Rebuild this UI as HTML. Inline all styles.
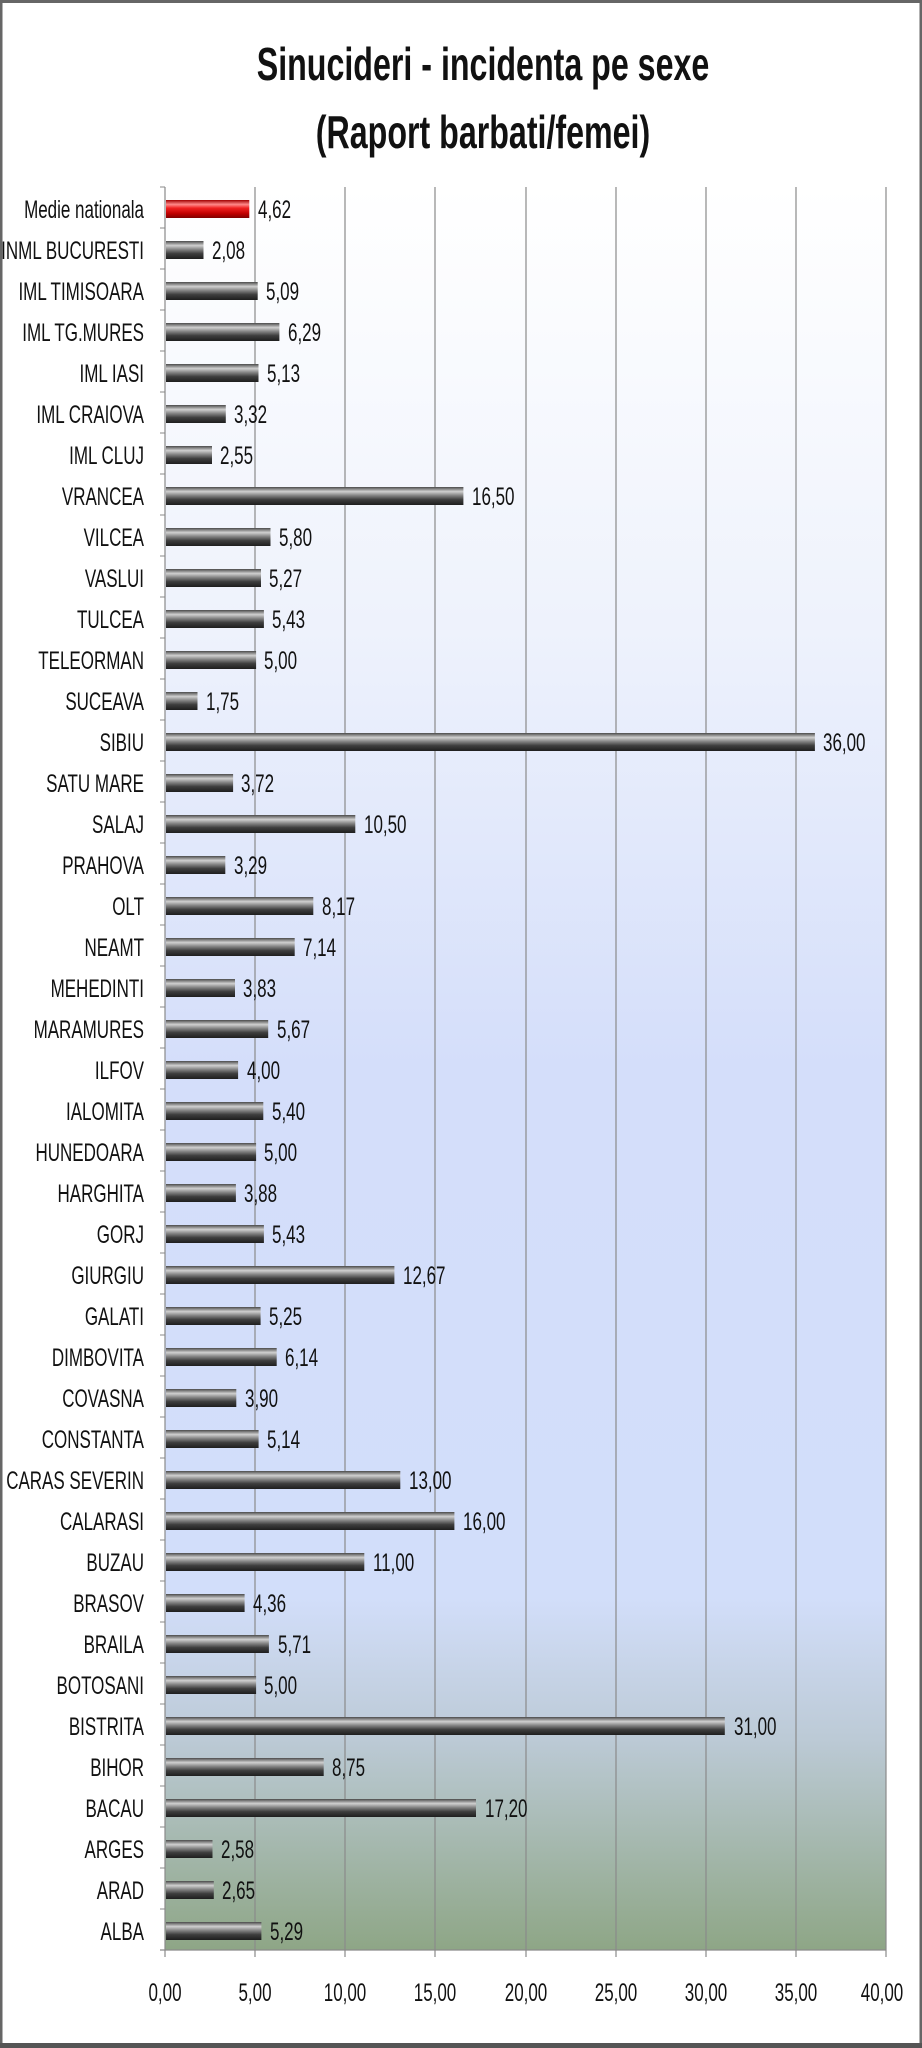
<!DOCTYPE html>
<html><head><meta charset="utf-8"><style>
html,body{margin:0;padding:0;background:#fff}
svg{display:block}
text{font-family:"Liberation Sans",sans-serif;fill:#111}
.l{font-size:25px}
</style></head><body>
<svg width="922" height="2048" viewBox="0 0 922 2048" xmlns="http://www.w3.org/2000/svg">
<defs>
<linearGradient id="bg" x1="0" y1="0" x2="0" y2="1">
<stop offset="0" stop-color="#ffffff"/>
<stop offset="0.25" stop-color="#eef2fc"/>
<stop offset="0.5" stop-color="#d4defa"/>
<stop offset="0.8" stop-color="#d2defa"/>
<stop offset="0.88" stop-color="#bccad6"/>
<stop offset="1" stop-color="#8ea686"/>
</linearGradient>
<linearGradient id="bar" x1="0" y1="0" x2="0" y2="1">
<stop offset="0" stop-color="#4a4a4a"/>
<stop offset="0.25" stop-color="#d0d0d0"/>
<stop offset="0.45" stop-color="#8a8a8a"/>
<stop offset="0.7" stop-color="#3e3e3e"/>
<stop offset="1" stop-color="#1e1e1e"/>
</linearGradient>
<linearGradient id="red" x1="0" y1="0" x2="0" y2="1">
<stop offset="0" stop-color="#a00000"/>
<stop offset="0.25" stop-color="#ff8a8a"/>
<stop offset="0.45" stop-color="#f02020"/>
<stop offset="0.75" stop-color="#c00000"/>
<stop offset="1" stop-color="#800000"/>
</linearGradient>
</defs>
<rect x="1" y="1" width="920" height="2045" fill="#fff" stroke="#666" stroke-width="3"/>
<rect x="0" y="0" width="922" height="3" fill="#666"/>
<rect x="0" y="2043" width="922" height="5" fill="#555"/>
<text transform="translate(483,80) scale(0.7,1)" text-anchor="middle" style="font-size:46px;font-weight:bold">Sinucideri - incidenta pe sexe</text>
<text transform="translate(483,148) scale(0.7,1)" text-anchor="middle" style="font-size:46px;font-weight:bold">(Raport barbati/femei)</text>
<rect x="165" y="187" width="721" height="1763" fill="url(#bg)"/>
<g stroke="#8a8a8a" stroke-width="1.2">
<line x1="255" y1="187" x2="255" y2="1950"/><line x1="345" y1="187" x2="345" y2="1950"/>
<line x1="435" y1="187" x2="435" y2="1950"/><line x1="526" y1="187" x2="526" y2="1950"/>
<line x1="616" y1="187" x2="616" y2="1950"/><line x1="706" y1="187" x2="706" y2="1950"/>
<line x1="796" y1="187" x2="796" y2="1950"/><line x1="886" y1="187" x2="886" y2="1950"/>
<line x1="165" y1="187" x2="165" y2="1950"/><line x1="160" y1="1950" x2="886" y2="1950"/>
</g>
<g stroke="#8a8a8a" stroke-width="1.2">
<line x1="165" y1="1950" x2="165" y2="1957"/><line x1="255" y1="1950" x2="255" y2="1957"/><line x1="345" y1="1950" x2="345" y2="1957"/><line x1="435" y1="1950" x2="435" y2="1957"/><line x1="526" y1="1950" x2="526" y2="1957"/><line x1="616" y1="1950" x2="616" y2="1957"/><line x1="706" y1="1950" x2="706" y2="1957"/><line x1="796" y1="1950" x2="796" y2="1957"/><line x1="886" y1="1950" x2="886" y2="1957"/>
</g>
<g class="l">
<text transform="translate(165,2001) scale(0.68,1)" text-anchor="middle">0,00</text>
<text transform="translate(255,2001) scale(0.68,1)" text-anchor="middle">5,00</text>
<text transform="translate(345,2001) scale(0.68,1)" text-anchor="middle">10,00</text>
<text transform="translate(435,2001) scale(0.68,1)" text-anchor="middle">15,00</text>
<text transform="translate(526,2001) scale(0.68,1)" text-anchor="middle">20,00</text>
<text transform="translate(616,2001) scale(0.68,1)" text-anchor="middle">25,00</text>
<text transform="translate(706,2001) scale(0.68,1)" text-anchor="middle">30,00</text>
<text transform="translate(796,2001) scale(0.68,1)" text-anchor="middle">35,00</text>
<text transform="translate(882,2001) scale(0.68,1)" text-anchor="middle">40,00</text>
</g>
<g class="l">
<g transform="translate(0,187)"><line x1="160" y1="0" x2="165" y2="0" stroke="#888"/><text transform="translate(144,31) scale(0.68,1)" text-anchor="end">Medie nationala</text><rect x="166" y="13" width="83.3" height="18" fill="url(#red)"/><text transform="translate(258,31) scale(0.68,1)">4,62</text></g>
<g transform="translate(0,228)"><line x1="160" y1="0" x2="165" y2="0" stroke="#888"/><text transform="translate(144,31) scale(0.68,1)" text-anchor="end">INML BUCURESTI</text><rect x="166" y="13" width="37.5" height="18" fill="url(#bar)"/><text transform="translate(212,31) scale(0.68,1)">2,08</text></g>
<g transform="translate(0,269)"><line x1="160" y1="0" x2="165" y2="0" stroke="#888"/><text transform="translate(144,31) scale(0.68,1)" text-anchor="end">IML TIMISOARA</text><rect x="166" y="13" width="91.7" height="18" fill="url(#bar)"/><text transform="translate(266,31) scale(0.68,1)">5,09</text></g>
<g transform="translate(0,310)"><line x1="160" y1="0" x2="165" y2="0" stroke="#888"/><text transform="translate(144,31) scale(0.68,1)" text-anchor="end">IML TG.MURES</text><rect x="166" y="13" width="113.4" height="18" fill="url(#bar)"/><text transform="translate(288,31) scale(0.68,1)">6,29</text></g>
<g transform="translate(0,351)"><line x1="160" y1="0" x2="165" y2="0" stroke="#888"/><text transform="translate(144,31) scale(0.68,1)" text-anchor="end">IML IASI</text><rect x="166" y="13" width="92.5" height="18" fill="url(#bar)"/><text transform="translate(267,31) scale(0.68,1)">5,13</text></g>
<g transform="translate(0,392)"><line x1="160" y1="0" x2="165" y2="0" stroke="#888"/><text transform="translate(144,31) scale(0.68,1)" text-anchor="end">IML CRAIOVA</text><rect x="166" y="13" width="59.8" height="18" fill="url(#bar)"/><text transform="translate(234,31) scale(0.68,1)">3,32</text></g>
<g transform="translate(0,433)"><line x1="160" y1="0" x2="165" y2="0" stroke="#888"/><text transform="translate(144,31) scale(0.68,1)" text-anchor="end">IML CLUJ</text><rect x="166" y="13" width="46.0" height="18" fill="url(#bar)"/><text transform="translate(220,31) scale(0.68,1)">2,55</text></g>
<g transform="translate(0,474)"><line x1="160" y1="0" x2="165" y2="0" stroke="#888"/><text transform="translate(144,31) scale(0.68,1)" text-anchor="end">VRANCEA</text><rect x="166" y="13" width="297.4" height="18" fill="url(#bar)"/><text transform="translate(472,31) scale(0.68,1)">16,50</text></g>
<g transform="translate(0,515)"><line x1="160" y1="0" x2="165" y2="0" stroke="#888"/><text transform="translate(144,31) scale(0.68,1)" text-anchor="end">VILCEA</text><rect x="166" y="13" width="104.5" height="18" fill="url(#bar)"/><text transform="translate(279,31) scale(0.68,1)">5,80</text></g>
<g transform="translate(0,556)"><line x1="160" y1="0" x2="165" y2="0" stroke="#888"/><text transform="translate(144,31) scale(0.68,1)" text-anchor="end">VASLUI</text><rect x="166" y="13" width="95.0" height="18" fill="url(#bar)"/><text transform="translate(269,31) scale(0.68,1)">5,27</text></g>
<g transform="translate(0,597)"><line x1="160" y1="0" x2="165" y2="0" stroke="#888"/><text transform="translate(144,31) scale(0.68,1)" text-anchor="end">TULCEA</text><rect x="166" y="13" width="97.9" height="18" fill="url(#bar)"/><text transform="translate(272,31) scale(0.68,1)">5,43</text></g>
<g transform="translate(0,638)"><line x1="160" y1="0" x2="165" y2="0" stroke="#888"/><text transform="translate(144,31) scale(0.68,1)" text-anchor="end">TELEORMAN</text><rect x="166" y="13" width="90.1" height="18" fill="url(#bar)"/><text transform="translate(264,31) scale(0.68,1)">5,00</text></g>
<g transform="translate(0,679)"><line x1="160" y1="0" x2="165" y2="0" stroke="#888"/><text transform="translate(144,31) scale(0.68,1)" text-anchor="end">SUCEAVA</text><rect x="166" y="13" width="31.5" height="18" fill="url(#bar)"/><text transform="translate(206,31) scale(0.68,1)">1,75</text></g>
<g transform="translate(0,720)"><line x1="160" y1="0" x2="165" y2="0" stroke="#888"/><text transform="translate(144,31) scale(0.68,1)" text-anchor="end">SIBIU</text><rect x="166" y="13" width="648.9" height="18" fill="url(#bar)"/><text transform="translate(823,31) scale(0.68,1)">36,00</text></g>
<g transform="translate(0,761)"><line x1="160" y1="0" x2="165" y2="0" stroke="#888"/><text transform="translate(144,31) scale(0.68,1)" text-anchor="end">SATU MARE</text><rect x="166" y="13" width="67.1" height="18" fill="url(#bar)"/><text transform="translate(241,31) scale(0.68,1)">3,72</text></g>
<g transform="translate(0,802)"><line x1="160" y1="0" x2="165" y2="0" stroke="#888"/><text transform="translate(144,31) scale(0.68,1)" text-anchor="end">SALAJ</text><rect x="166" y="13" width="189.3" height="18" fill="url(#bar)"/><text transform="translate(364,31) scale(0.68,1)">10,50</text></g>
<g transform="translate(0,843)"><line x1="160" y1="0" x2="165" y2="0" stroke="#888"/><text transform="translate(144,31) scale(0.68,1)" text-anchor="end">PRAHOVA</text><rect x="166" y="13" width="59.3" height="18" fill="url(#bar)"/><text transform="translate(234,31) scale(0.68,1)">3,29</text></g>
<g transform="translate(0,884)"><line x1="160" y1="0" x2="165" y2="0" stroke="#888"/><text transform="translate(144,31) scale(0.68,1)" text-anchor="end">OLT</text><rect x="166" y="13" width="147.3" height="18" fill="url(#bar)"/><text transform="translate(322,31) scale(0.68,1)">8,17</text></g>
<g transform="translate(0,925)"><line x1="160" y1="0" x2="165" y2="0" stroke="#888"/><text transform="translate(144,31) scale(0.68,1)" text-anchor="end">NEAMT</text><rect x="166" y="13" width="128.7" height="18" fill="url(#bar)"/><text transform="translate(303,31) scale(0.68,1)">7,14</text></g>
<g transform="translate(0,966)"><line x1="160" y1="0" x2="165" y2="0" stroke="#888"/><text transform="translate(144,31) scale(0.68,1)" text-anchor="end">MEHEDINTI</text><rect x="166" y="13" width="69.0" height="18" fill="url(#bar)"/><text transform="translate(243,31) scale(0.68,1)">3,83</text></g>
<g transform="translate(0,1007)"><line x1="160" y1="0" x2="165" y2="0" stroke="#888"/><text transform="translate(144,31) scale(0.68,1)" text-anchor="end">MARAMURES</text><rect x="166" y="13" width="102.2" height="18" fill="url(#bar)"/><text transform="translate(277,31) scale(0.68,1)">5,67</text></g>
<g transform="translate(0,1048)"><line x1="160" y1="0" x2="165" y2="0" stroke="#888"/><text transform="translate(144,31) scale(0.68,1)" text-anchor="end">ILFOV</text><rect x="166" y="13" width="72.1" height="18" fill="url(#bar)"/><text transform="translate(247,31) scale(0.68,1)">4,00</text></g>
<g transform="translate(0,1089)"><line x1="160" y1="0" x2="165" y2="0" stroke="#888"/><text transform="translate(144,31) scale(0.68,1)" text-anchor="end">IALOMITA</text><rect x="166" y="13" width="97.3" height="18" fill="url(#bar)"/><text transform="translate(272,31) scale(0.68,1)">5,40</text></g>
<g transform="translate(0,1130)"><line x1="160" y1="0" x2="165" y2="0" stroke="#888"/><text transform="translate(144,31) scale(0.68,1)" text-anchor="end">HUNEDOARA</text><rect x="166" y="13" width="90.1" height="18" fill="url(#bar)"/><text transform="translate(264,31) scale(0.68,1)">5,00</text></g>
<g transform="translate(0,1171)"><line x1="160" y1="0" x2="165" y2="0" stroke="#888"/><text transform="translate(144,31) scale(0.68,1)" text-anchor="end">HARGHITA</text><rect x="166" y="13" width="69.9" height="18" fill="url(#bar)"/><text transform="translate(244,31) scale(0.68,1)">3,88</text></g>
<g transform="translate(0,1212)"><line x1="160" y1="0" x2="165" y2="0" stroke="#888"/><text transform="translate(144,31) scale(0.68,1)" text-anchor="end">GORJ</text><rect x="166" y="13" width="97.9" height="18" fill="url(#bar)"/><text transform="translate(272,31) scale(0.68,1)">5,43</text></g>
<g transform="translate(0,1253)"><line x1="160" y1="0" x2="165" y2="0" stroke="#888"/><text transform="translate(144,31) scale(0.68,1)" text-anchor="end">GIURGIU</text><rect x="166" y="13" width="228.4" height="18" fill="url(#bar)"/><text transform="translate(403,31) scale(0.68,1)">12,67</text></g>
<g transform="translate(0,1294)"><line x1="160" y1="0" x2="165" y2="0" stroke="#888"/><text transform="translate(144,31) scale(0.68,1)" text-anchor="end">GALATI</text><rect x="166" y="13" width="94.6" height="18" fill="url(#bar)"/><text transform="translate(269,31) scale(0.68,1)">5,25</text></g>
<g transform="translate(0,1335)"><line x1="160" y1="0" x2="165" y2="0" stroke="#888"/><text transform="translate(144,31) scale(0.68,1)" text-anchor="end">DIMBOVITA</text><rect x="166" y="13" width="110.7" height="18" fill="url(#bar)"/><text transform="translate(285,31) scale(0.68,1)">6,14</text></g>
<g transform="translate(0,1376)"><line x1="160" y1="0" x2="165" y2="0" stroke="#888"/><text transform="translate(144,31) scale(0.68,1)" text-anchor="end">COVASNA</text><rect x="166" y="13" width="70.3" height="18" fill="url(#bar)"/><text transform="translate(245,31) scale(0.68,1)">3,90</text></g>
<g transform="translate(0,1417)"><line x1="160" y1="0" x2="165" y2="0" stroke="#888"/><text transform="translate(144,31) scale(0.68,1)" text-anchor="end">CONSTANTA</text><rect x="166" y="13" width="92.6" height="18" fill="url(#bar)"/><text transform="translate(267,31) scale(0.68,1)">5,14</text></g>
<g transform="translate(0,1458)"><line x1="160" y1="0" x2="165" y2="0" stroke="#888"/><text transform="translate(144,31) scale(0.68,1)" text-anchor="end">CARAS SEVERIN</text><rect x="166" y="13" width="234.3" height="18" fill="url(#bar)"/><text transform="translate(409,31) scale(0.68,1)">13,00</text></g>
<g transform="translate(0,1499)"><line x1="160" y1="0" x2="165" y2="0" stroke="#888"/><text transform="translate(144,31) scale(0.68,1)" text-anchor="end">CALARASI</text><rect x="166" y="13" width="288.4" height="18" fill="url(#bar)"/><text transform="translate(463,31) scale(0.68,1)">16,00</text></g>
<g transform="translate(0,1540)"><line x1="160" y1="0" x2="165" y2="0" stroke="#888"/><text transform="translate(144,31) scale(0.68,1)" text-anchor="end">BUZAU</text><rect x="166" y="13" width="198.3" height="18" fill="url(#bar)"/><text transform="translate(373,31) scale(0.68,1)">11,00</text></g>
<g transform="translate(0,1581)"><line x1="160" y1="0" x2="165" y2="0" stroke="#888"/><text transform="translate(144,31) scale(0.68,1)" text-anchor="end">BRASOV</text><rect x="166" y="13" width="78.6" height="18" fill="url(#bar)"/><text transform="translate(253,31) scale(0.68,1)">4,36</text></g>
<g transform="translate(0,1622)"><line x1="160" y1="0" x2="165" y2="0" stroke="#888"/><text transform="translate(144,31) scale(0.68,1)" text-anchor="end">BRAILA</text><rect x="166" y="13" width="102.9" height="18" fill="url(#bar)"/><text transform="translate(278,31) scale(0.68,1)">5,71</text></g>
<g transform="translate(0,1663)"><line x1="160" y1="0" x2="165" y2="0" stroke="#888"/><text transform="translate(144,31) scale(0.68,1)" text-anchor="end">BOTOSANI</text><rect x="166" y="13" width="90.1" height="18" fill="url(#bar)"/><text transform="translate(264,31) scale(0.68,1)">5,00</text></g>
<g transform="translate(0,1704)"><line x1="160" y1="0" x2="165" y2="0" stroke="#888"/><text transform="translate(144,31) scale(0.68,1)" text-anchor="end">BISTRITA</text><rect x="166" y="13" width="558.8" height="18" fill="url(#bar)"/><text transform="translate(734,31) scale(0.68,1)">31,00</text></g>
<g transform="translate(0,1745)"><line x1="160" y1="0" x2="165" y2="0" stroke="#888"/><text transform="translate(144,31) scale(0.68,1)" text-anchor="end">BIHOR</text><rect x="166" y="13" width="157.7" height="18" fill="url(#bar)"/><text transform="translate(332,31) scale(0.68,1)">8,75</text></g>
<g transform="translate(0,1786)"><line x1="160" y1="0" x2="165" y2="0" stroke="#888"/><text transform="translate(144,31) scale(0.68,1)" text-anchor="end">BACAU</text><rect x="166" y="13" width="310.0" height="18" fill="url(#bar)"/><text transform="translate(485,31) scale(0.68,1)">17,20</text></g>
<g transform="translate(0,1827)"><line x1="160" y1="0" x2="165" y2="0" stroke="#888"/><text transform="translate(144,31) scale(0.68,1)" text-anchor="end">ARGES</text><rect x="166" y="13" width="46.5" height="18" fill="url(#bar)"/><text transform="translate(221,31) scale(0.68,1)">2,58</text></g>
<g transform="translate(0,1868)"><line x1="160" y1="0" x2="165" y2="0" stroke="#888"/><text transform="translate(144,31) scale(0.68,1)" text-anchor="end">ARAD</text><rect x="166" y="13" width="47.8" height="18" fill="url(#bar)"/><text transform="translate(222,31) scale(0.68,1)">2,65</text></g>
<g transform="translate(0,1909)"><line x1="160" y1="0" x2="165" y2="0" stroke="#888"/><text transform="translate(144,31) scale(0.68,1)" text-anchor="end">ALBA</text><rect x="166" y="13" width="95.4" height="18" fill="url(#bar)"/><text transform="translate(270,31) scale(0.68,1)">5,29</text></g>
</g>
</svg>
</body></html>
